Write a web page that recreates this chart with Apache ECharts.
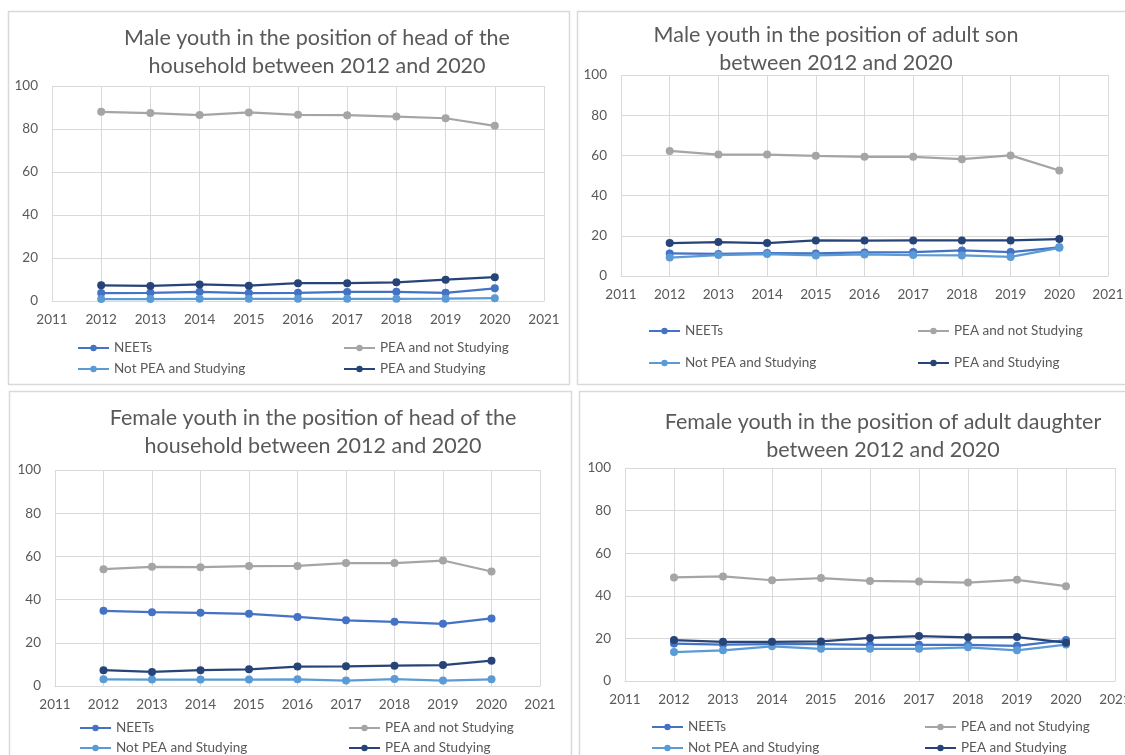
<!DOCTYPE html>
<html>
<head>
<meta charset="utf-8">
<script src="https://cdn.jsdelivr.net/npm/echarts@6/dist/echarts.min.js"></script>
<style>
  html, body { margin: 0; padding: 0; background: #ffffff; }
  #chart { width: 1125px; height: 755px; }
</style>
</head>
<body>
<div id="chart"></div>
<script>
// Survey years shared by all four panels
const years = [2012, 2013, 2014, 2015, 2016, 2017, 2018, 2019, 2020];
const seriesNames = ['NEETs', 'PEA and not Studying', 'Not PEA and Studying', 'PEA and Studying'];

// Male youth, head of the household (%)
const maleHeadNeets      = [3.7, 3.8, 4.3, 3.7, 3.8, 4.2, 4.3, 3.8, 5.9];
const maleHeadPeaNotStud = [88.0, 87.4, 86.5, 87.7, 86.6, 86.4, 85.8, 85.0, 81.5];
const maleHeadNotPeaStud = [0.9, 0.9, 1.0, 1.0, 1.0, 1.0, 1.0, 1.1, 1.3];
const maleHeadPeaStud    = [7.3, 7.0, 7.7, 7.1, 8.3, 8.3, 8.7, 9.9, 11.1];

// Male youth, adult son (%)
const maleSonNeets      = [11.2, 11.0, 11.4, 11.2, 11.7, 11.9, 12.7, 11.9, 14.3];
const maleSonPeaNotStud = [62.2, 60.4, 60.4, 59.8, 59.3, 59.3, 58.1, 60.0, 52.5];
const maleSonNotPeaStud = [9.2, 10.4, 10.9, 10.2, 10.7, 10.4, 10.2, 9.5, 14.0];
const maleSonPeaStud    = [16.4, 16.9, 16.4, 17.7, 17.6, 17.7, 17.7, 17.7, 18.4];

// Female youth, head of the household (%)
const femHeadNeets      = [34.8, 34.2, 33.9, 33.4, 32.0, 30.4, 29.7, 28.8, 31.3];
const femHeadPeaNotStud = [54.1, 55.2, 55.0, 55.5, 55.6, 56.9, 56.9, 58.1, 53.0];
const femHeadNotPeaStud = [3.1, 3.0, 3.0, 3.0, 3.1, 2.5, 3.2, 2.5, 3.1];
const femHeadPeaStud    = [7.3, 6.5, 7.3, 7.7, 9.0, 9.1, 9.4, 9.7, 11.7];

// Female youth, adult daughter (%)
const femDauNeets      = [17.6, 17.1, 17.3, 17.3, 17.0, 17.0, 17.0, 16.5, 19.2];
const femDauPeaNotStud = [48.6, 49.1, 47.3, 48.3, 47.0, 46.7, 46.2, 47.5, 44.5];
const femDauNotPeaStud = [13.6, 14.4, 16.3, 15.1, 15.1, 15.1, 15.8, 14.4, 17.1];
const femDauPeaStud    = [19.2, 18.4, 18.4, 18.6, 20.2, 21.1, 20.5, 20.6, 18.0];

// Axis ranges and panel titles
const xMin = 2011, xMax = 2021, xStep = 1;
const yMin = 0, yMax = 100, yStep = 20;
const panelTitles = [
  'Male youth in the position of head of the\nhousehold between 2012 and 2020',
  'Male youth in the position of adult son\nbetween 2012 and 2020',
  'Female youth in the position of head of the\nhousehold between 2012 and 2020',
  'Female youth in the position of adult daughter\nbetween 2012 and 2020'
];
const panelData = [
  [maleHeadNeets, maleHeadPeaNotStud, maleHeadNotPeaStud, maleHeadPeaStud],
  [maleSonNeets, maleSonPeaNotStud, maleSonNotPeaStud, maleSonPeaStud],
  [femHeadNeets, femHeadPeaNotStud, femHeadNotPeaStud, femHeadPeaStud],
  [femDauNeets, femDauPeaNotStud, femDauNotPeaStud, femDauPeaStud]
];

// ---- styling / layout ----
const colors = ['#4472C4', '#A5A5A5', '#5B9BD5', '#264478'];
const textColor = '#595959';
const gridColor = '#d9d9d9';
const fontFamily = 'Lato, "Open Sans", sans-serif';

const layout = [
  { grid: { left: 52, top: 86, width: 492, height: 215 }, title: { cx: 317, top: 24 },
    box: { x: 8, y: 11, w: 561, h: 373 }, legendRows: [341, 362], legendCols: [77, 343] },
  { grid: { left: 621, top: 75, width: 487, height: 201 }, title: { cx: 836, top: 21 },
    box: { x: 577, y: 11, w: 560, h: 373 }, legendRows: [324, 356], legendCols: [648, 917] },
  { grid: { left: 55, top: 470, width: 485, height: 216 }, title: { cx: 313, top: 404 },
    box: { x: 9, y: 391, w: 562, h: 380 }, legendRows: [721, 741], legendCols: [79, 348] },
  { grid: { left: 625, top: 468, width: 490, height: 213 }, title: { cx: 883, top: 408 },
    box: { x: 579, y: 391, w: 560, h: 380 }, legendRows: [720, 741], legendCols: [651, 924] }
];

const grids = [], xAxes = [], yAxes = [], titles = [], legends = [], series = [], graphics = [];

layout.forEach((p, i) => {
  graphics.push({
    type: 'rect', z: -10, silent: true,
    shape: { x: p.box.x + 0.5, y: p.box.y + 0.5, width: p.box.w, height: p.box.h },
    style: { fill: '#ffffff', stroke: gridColor, lineWidth: 1.5 }
  });
  // plot areas may run past the canvas edge, so no automatic shrinking
  grids.push(Object.assign({ containLabel: false, outerBoundsMode: 'none' }, p.grid));
  titles.push({
    text: panelTitles[i], left: p.title.cx, top: p.title.top, padding: 0,
    textAlign: 'center', textVerticalAlign: 'top',
    textStyle: { color: textColor, fontFamily, fontSize: 21.5, fontWeight: 'normal', lineHeight: 28 }
  });
  xAxes.push({
    type: 'value', gridIndex: i, min: xMin, max: xMax, interval: xStep,
    axisLine: { show: true, lineStyle: { color: gridColor, width: 1 } },
    axisTick: { show: false },
    splitLine: { show: true, lineStyle: { color: gridColor, width: 1 } },
    axisLabel: { color: textColor, fontFamily, fontSize: 13.5, margin: 12, formatter: v => String(v) }
  });
  yAxes.push({
    type: 'value', gridIndex: i, min: yMin, max: yMax, interval: yStep,
    axisLine: { show: false }, axisTick: { show: false },
    splitLine: { show: true, lineStyle: { color: gridColor, width: 1 } },
    axisLabel: { color: textColor, fontFamily, fontSize: 13.5, margin: 14 }
  });
  seriesNames.forEach((name, k) => {
    series.push({
      type: 'line', name, xAxisIndex: i, yAxisIndex: i,
      data: years.map((y, j) => [y, panelData[i][k][j]]),
      color: colors[k],
      symbol: 'circle', symbolSize: 8,
      lineStyle: { width: 2.25, color: colors[k] },
      itemStyle: { color: colors[k] },
      z: 2 + k, animation: false
    });
    // legend laid out as 2x2: row-major over the series list
    const row = Math.floor(k / 2), col = k % 2;
    legends.push({
      data: [name], left: p.legendCols[col], top: p.legendRows[row], padding: 0,
      itemWidth: 31, itemHeight: 8, selectedMode: false,
      textStyle: { color: textColor, fontFamily, fontSize: 13.5 }
    });
  });
});

const chart = echarts.init(document.getElementById('chart'), null, { renderer: 'canvas' });
chart.setOption({
  backgroundColor: '#ffffff',
  animation: false,
  title: titles,
  grid: grids,
  xAxis: xAxes,
  yAxis: yAxes,
  legend: legends,
  graphic: graphics,
  series
});
</script>
</body>
</html>
